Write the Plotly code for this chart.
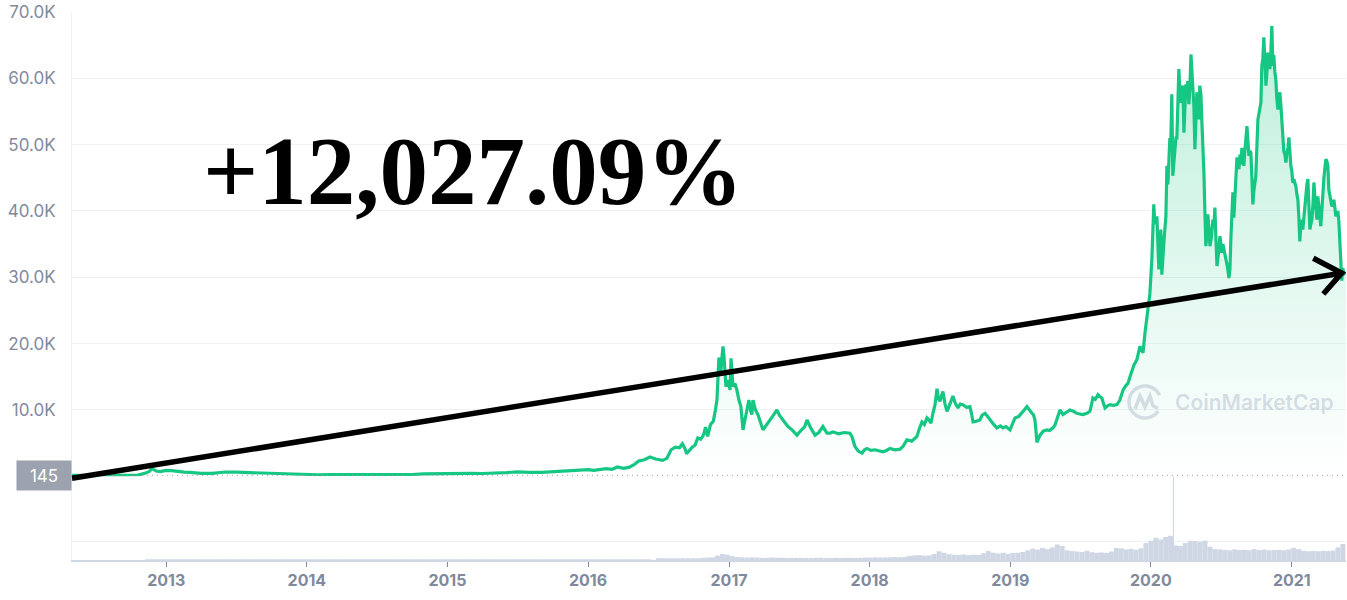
import numpy as np
import pandas as pd
import plotly.graph_objects as go

# ---------------- data (decimal years as shown on the chart's axis, USD) ----------------
price_years = [
    2012.332, 2012.37, 2012.42, 2012.50, 2012.58, 2012.67, 2012.75, 2012.80, 2012.85, 2012.88,
    2012.90, 2012.93, 2012.96, 2013.00, 2013.04, 2013.08, 2013.13, 2013.17, 2013.21, 2013.25,
    2013.33, 2013.38, 2013.42, 2013.50, 2013.58, 2013.67, 2013.75, 2013.83, 2013.92, 2014.00,
    2014.04, 2014.08, 2014.17, 2014.25, 2014.33, 2014.42, 2014.50, 2014.58, 2014.67, 2014.75,
    2014.83, 2014.92, 2015.00, 2015.08, 2015.17, 2015.25, 2015.33, 2015.42, 2015.50, 2015.58,
    2015.67, 2015.75, 2015.83, 2015.92, 2015.96, 2016.00, 2016.04, 2016.08, 2016.13, 2016.17,
    2016.21, 2016.25, 2016.29, 2016.33, 2016.36, 2016.40, 2016.44, 2016.48, 2016.50, 2016.53,
    2016.56, 2016.59, 2016.62, 2016.65, 2016.67, 2016.69, 2016.70, 2016.72, 2016.74, 2016.76,
    2016.78, 2016.80, 2016.82, 2016.835, 2016.85, 2016.87, 2016.89, 2016.905, 2016.916, 2016.93,
    2016.937, 2016.944, 2016.952, 2016.959, 2016.966, 2016.973, 2016.98, 2016.987, 2016.994, 2017.002,
    2017.009, 2017.016, 2017.023, 2017.03, 2017.044, 2017.058, 2017.072, 2017.086, 2017.101, 2017.115,
    2017.129, 2017.143, 2017.157, 2017.164, 2017.172, 2017.19, 2017.207, 2017.225, 2017.243, 2017.26,
    2017.278, 2017.31, 2017.342, 2017.36, 2017.385, 2017.40, 2017.421, 2017.45, 2017.485, 2017.50,
    2017.52, 2017.54, 2017.556, 2017.58, 2017.613, 2017.64, 2017.669, 2017.698, 2017.72, 2017.74,
    2017.78, 2017.82, 2017.861, 2017.875, 2017.897, 2017.92, 2017.947, 2017.965, 2017.982, 2018.01,
    2018.039, 2018.07, 2018.096, 2018.12, 2018.146, 2018.18, 2018.217, 2018.238, 2018.266, 2018.30,
    2018.323, 2018.337, 2018.355, 2018.373, 2018.39, 2018.409, 2018.423, 2018.437, 2018.451, 2018.466,
    2018.48, 2018.49, 2018.501, 2018.511, 2018.522, 2018.536, 2018.551, 2018.565, 2018.58, 2018.593,
    2018.61, 2018.629, 2018.645, 2018.664, 2018.69, 2018.714, 2018.725, 2018.736, 2018.76, 2018.785,
    2018.80, 2018.821, 2018.84, 2018.856, 2018.88, 2018.906, 2018.93, 2018.949, 2018.97, 2018.999,
    2019.017, 2019.034, 2019.06, 2019.084, 2019.10, 2019.119, 2019.135, 2019.155, 2019.165, 2019.176,
    2019.183, 2019.19, 2019.20, 2019.212, 2019.235, 2019.261, 2019.28, 2019.304, 2019.318, 2019.332,
    2019.345, 2019.354, 2019.375, 2019.40, 2019.425, 2019.45, 2019.474, 2019.495, 2019.517, 2019.545,
    2019.567, 2019.578, 2019.588, 2019.605, 2019.624, 2019.638, 2019.652, 2019.663, 2019.674, 2019.69,
    2019.709, 2019.735, 2019.759, 2019.78, 2019.802, 2019.82, 2019.837, 2019.852, 2019.866, 2019.88,
    2019.901, 2019.912, 2019.922, 2019.933, 2019.944, 2019.958, 2019.972, 2019.993, 2020.007, 2020.021,
    2020.028, 2020.036, 2020.043, 2020.05, 2020.057, 2020.064, 2020.071, 2020.078, 2020.085, 2020.095,
    2020.107, 2020.114, 2020.121, 2020.128, 2020.135, 2020.142, 2020.149, 2020.156, 2020.164, 2020.171,
    2020.178, 2020.185, 2020.192, 2020.199, 2020.207, 2020.214, 2020.221, 2020.228, 2020.235, 2020.242,
    2020.249, 2020.256, 2020.263, 2020.27, 2020.278, 2020.285, 2020.292, 2020.299, 2020.306, 2020.313,
    2020.320, 2020.327, 2020.334, 2020.341, 2020.348, 2020.356, 2020.363, 2020.37, 2020.377, 2020.384,
    2020.391, 2020.398, 2020.405, 2020.412, 2020.42, 2020.43, 2020.441, 2020.448, 2020.455, 2020.462,
    2020.47, 2020.48, 2020.491, 2020.498, 2020.505, 2020.512, 2020.519, 2020.527, 2020.534, 2020.545,
    2020.555, 2020.562, 2020.569, 2020.576, 2020.583, 2020.59, 2020.597, 2020.605, 2020.612, 2020.619,
    2020.626, 2020.633, 2020.64, 2020.647, 2020.654, 2020.661, 2020.668, 2020.676, 2020.683, 2020.69,
    2020.697, 2020.704, 2020.711, 2020.718, 2020.725, 2020.732, 2020.739, 2020.746, 2020.754, 2020.761,
    2020.771, 2020.782, 2020.789, 2020.796, 2020.803, 2020.81, 2020.818, 2020.825, 2020.832, 2020.839,
    2020.846, 2020.853, 2020.86, 2020.867, 2020.874, 2020.881, 2020.888, 2020.895, 2020.903, 2020.91,
    2020.917, 2020.924, 2020.931, 2020.938, 2020.945, 2020.953, 2020.96, 2020.967, 2020.974, 2020.981,
    2020.988, 2020.995, 2021.002, 2021.009, 2021.02, 2021.031, 2021.038, 2021.045, 2021.052, 2021.059,
    2021.066, 2021.073, 2021.08, 2021.09, 2021.102, 2021.109, 2021.116, 2021.123, 2021.13, 2021.137,
    2021.145, 2021.152, 2021.159, 2021.166, 2021.173, 2021.18, 2021.187, 2021.194, 2021.201, 2021.208,
    2021.215, 2021.223, 2021.23, 2021.237, 2021.244, 2021.251, 2021.258, 2021.265, 2021.272, 2021.279,
    2021.286, 2021.294, 2021.301, 2021.308, 2021.315, 2021.322, 2021.329, 2021.336, 2021.343, 2021.35,
    2021.357, 2021.364, 2021.372, 2021.386,
]
price_values = [
    145, 120, 110, 95, 105, 125, 140, 190, 450, 700,
    1150, 800, 700, 900, 850, 700, 620, 600, 500, 450,
    450, 600, 650, 620, 560, 480, 400, 360, 350, 300,
    210, 230, 250, 240, 230, 250, 270, 270, 230, 270,
    380, 420, 430, 380, 430, 420, 450, 560, 680, 580,
    600, 700, 740, 800, 950, 1000, 900, 1000, 1150, 1050,
    1400, 1200, 1350, 1800, 2300, 2500, 2900, 2600, 2500, 2400,
    2700, 4000, 4400, 4300, 4900, 4100, 3400, 3900, 4400, 4700,
    5800, 5600, 6200, 7400, 6000, 7800, 8300, 10000, 11500, 17900,
    16300, 15800, 18000, 19600, 18100, 15000, 13500, 14000, 14500, 13800,
    13000, 17800, 14800, 13500, 14000, 13000, 11500, 10500, 7000, 8500,
    10500, 11500, 9800, 9300, 11500, 10000, 9300, 8000, 7000, 7500,
    8000, 9000, 10000, 9200, 8500, 8100, 7500, 7000, 6200, 6600,
    7000, 7500, 8500, 7400, 6200, 6600, 7500, 6500, 6500, 6700,
    6400, 6600, 6500, 6000, 4500, 3800, 3500, 4000, 4200, 3900,
    4000, 3800, 3700, 3900, 4200, 4000, 4100, 4500, 5500, 5300,
    5700, 6000, 7200, 8200, 7800, 8800, 8500, 8000, 9500, 10800,
    13200, 11800, 11300, 12000, 12800, 11000, 9800, 10500, 11500, 12100,
    11000, 10300, 10900, 10800, 10400, 10500, 9500, 8200, 8300, 8500,
    9200, 9500, 9000, 8500, 7900, 7300, 7600, 7300, 7500, 7000,
    7800, 8800, 9000, 9500, 10000, 10500, 10000, 9500, 9300, 8500,
    7000, 5100, 5600, 6200, 6800, 7000, 6900, 7300, 7700, 8500,
    9200, 10000, 9300, 9600, 10000, 9800, 9500, 9400, 9300, 9500,
    9800, 10800, 11800, 11600, 12300, 12000, 11800, 11000, 10300, 10600,
    10800, 10700, 10800, 11500, 13000, 13600, 14000, 15000, 15800, 16800,
    17600, 19000, 19600, 19100, 18600, 21600, 24100, 27500, 32700, 41000,
    38000, 38700, 39200, 35000, 31200, 34500, 37200, 30400, 33200, 36000,
    39200, 46800, 44000, 48800, 51000, 50500, 57600, 45300, 47500, 49300,
    51000, 51000, 56000, 61400, 57500, 56300, 58000, 58900, 51800, 55000,
    59100, 58000, 59600, 56100, 59000, 63600, 61000, 60400, 55800, 49300,
    53000, 57900, 56000, 53800, 58900, 57500, 53300, 50000, 45800, 40000,
    34700, 36500, 39500, 37500, 34700, 36000, 38700, 37500, 40500, 36000,
    31700, 33500, 36200, 35000, 33700, 35000, 34200, 33800, 32700, 31500,
    29900, 31200, 36000, 40700, 42800, 39000, 41500, 44300, 48100, 47000,
    46300, 48500, 47000, 49500, 47500, 46800, 49000, 51000, 52800, 50500,
    48300, 49000, 48800, 45000, 41000, 43000, 44500, 45300, 50000, 53800,
    55000, 56300, 61900, 63000, 66200, 62000, 58900, 61000, 63900, 62500,
    61400, 64000, 67900, 61900, 63500, 61000, 59900, 57000, 55300, 56500,
    57900, 56000, 53800, 50300, 49000, 48500, 47300, 48800, 49500, 51100,
    48500, 46800, 46000, 44300, 44500, 43700, 42500, 41700, 39000, 35400,
    38000, 38700, 37200, 40000, 43200, 44000, 44800, 41000, 37200, 38000,
    38700, 41000, 44300, 42000, 40000, 38700, 42200, 40500, 38500, 37700,
    40000, 43200, 45000, 46500, 47800, 47500, 46800, 43200, 42500, 41500,
    40700, 41000, 41700, 40500, 39200, 39500, 40000, 38500, 35700, 33000,
    29500, 31400, 30500, 30700,
]

# volume (billions USD)
vol_early_years = [round(2012.9 + 0.1 * i, 2) for i in range(36)]
vol_early_values = [1, 1, 1, 1, 1, 1, 1, 1, 1, 1, 1, 1, 1, 1, 1, 1, 1, 1,
                    1, 1, 1, 1, 1, 1, 1, 1, 1, 1, 1, 1, 1, 1, 2, 2, 2, 2]
vol_years = [round(2016.5 + 0.035 * i, 3) for i in range(140)]
vol_values = [
    3, 3, 4, 4, 4, 5, 5, 6, 7, 9,
    10, 11, 18, 25, 22, 16, 12, 11, 10, 11,
    10, 9, 9, 10, 9, 9, 8, 9, 8, 9,
    8, 8, 9, 9, 8, 8, 9, 8, 9, 9,
    8, 9, 10, 10, 11, 10, 11, 11, 12, 11,
    13, 17, 19, 20, 18, 19, 25, 36, 30, 24,
    22, 21, 23, 20, 22, 21, 28, 37, 30, 27,
    30, 26, 29, 30, 33, 40, 47, 43, 50, 45,
    52, 64, 58, 40, 37, 35, 33, 38, 32, 30,
    31, 29, 35, 50, 48, 44, 46, 42, 48, 70,
    80, 92, 85, 95, 100, 60, 58, 70, 80, 78,
    75, 80, 55, 45, 44, 42, 40, 44, 41, 42,
    40, 45, 41, 43, 40, 41, 42, 40, 44, 50,
    45, 38, 36, 37, 36, 38, 37, 39, 52, 66,
]
spike_years = [2020.161]
spike_values = [345]

y_tick_values = [10000, 20000, 30000, 40000, 50000, 60000, 70000]
y_tick_labels = ["10.0K", "20.0K", "30.0K", "40.0K", "50.0K", "60.0K", "70.0K"]
start_price = 145
start_label = "145"
change_label = "+12,027.09%"
watermark = "CoinMarketCap"

# ---------------- helpers ----------------
BASE = pd.Timestamp("2000-01-01")


def to_date(t):
    return BASE + pd.to_timedelta((np.asarray(t, dtype=float) - 2000.0) * 365.25, unit="D")


YEAR_MS = 365.25 * 86400000

W, H = 1347, 600
ML, MR, MT, MB = 72, 1, 12, 40
PW, PH = W - ML - MR, H - MT - MB


def pxx(x):
    return (x - ML) / PW


def pxy(y):
    return (H - MB - y) / PH


price_bottom = pxy(476.3)

GREEN = "#16c784"
GRID = "#eff2f5"
LABEL = "#808a9d"
VOL = "#cfd6e4"
MARK = "rgba(150,160,185,0.35)"

fig = go.Figure()

fig.add_trace(go.Scatter(
    x=to_date(price_years), y=price_values, mode="lines",
    line=dict(color=GREEN, width=3.2),
    fill="tozeroy",
    fillgradient=dict(type="vertical", start=0, stop=65000,
                      colorscale=[[0, "rgba(22,199,132,0)"], [1, "rgba(22,199,132,0.27)"]]),
    xaxis="x", yaxis="y", hoverinfo="skip", showlegend=False,
))

fig.add_trace(go.Bar(
    x=to_date(vol_early_years), y=vol_early_values, width=0.1 * YEAR_MS,
    marker=dict(color=VOL, line=dict(width=0)), xaxis="x", yaxis="y2",
    hoverinfo="skip", showlegend=False,
))
fig.add_trace(go.Bar(
    x=to_date(vol_years), y=vol_values, width=0.035 * YEAR_MS,
    marker=dict(color=VOL, line=dict(width=0)), xaxis="x", yaxis="y2",
    hoverinfo="skip", showlegend=False,
))
fig.add_trace(go.Bar(
    x=to_date(spike_years), y=spike_values, width=2.5 * 86400000,
    marker=dict(color=VOL, line=dict(width=0)), xaxis="x", yaxis="y2",
    hoverinfo="skip", showlegend=False,
))

x_range = [to_date(2012.332), to_date(2021.387)]

fig.update_layout(
    width=W, height=H,
    margin=dict(l=ML, r=MR, t=MT, b=MB),
    paper_bgcolor="white", plot_bgcolor="white",
    barmode="overlay", hovermode=False,
    font=dict(family="Inter", color=LABEL),
    xaxis=dict(
        type="date", range=x_range, anchor="y2",
        tick0="2013-01-01", dtick="M12", tickformat="%Y",
        ticks="outside", ticklen=5, tickwidth=1, tickcolor=LABEL,
        showgrid=False, zeroline=False,
        showline=True, linecolor=VOL, linewidth=1.5,
        tickfont=dict(family="Inter", size=16, color=LABEL, weight=700),
    ),
    yaxis=dict(
        domain=[price_bottom, 1], range=[0, 70000], anchor="x",
        tickvals=y_tick_values, ticktext=y_tick_labels,
        ticks="outside", ticklen=12, tickcolor="rgba(0,0,0,0)",
        showgrid=True, gridcolor=GRID, gridwidth=1, zeroline=False,
        showline=True, linecolor=GRID, linewidth=1,
        tickfont=dict(family="Inter", size=17, color=LABEL),
    ),
    yaxis2=dict(
        domain=[0, price_bottom], range=[0, 346], anchor="x",
        tickvals=[75], showticklabels=False,
        showgrid=True, gridcolor=GRID, gridwidth=1, zeroline=False,
        showline=True, linecolor=GRID, linewidth=1,
    ),
)

# dotted reference line at the starting price
fig.add_shape(type="line", xref="paper", yref="y", x0=0, x1=1, y0=start_price, y1=start_price,
              line=dict(color="#9aa3b3", width=1, dash="1px,4px"), layer="above")

# watermark logo (ring + wave)
cx, cy, r = 1145, 402, 16
ang = np.linspace(np.deg2rad(-35), np.deg2rad(-35 - 300), 40)
ring = "M " + " L ".join(f"{pxx(cx + r * np.cos(a)):.5f},{pxy(cy - r * np.sin(a)):.5f}" for a in ang)
wave_pts = [(-10, 7), (-5, -6), (0, 5), (5, -6), (8, 4), (13, 6)]
wave = "M " + " L ".join(f"{pxx(cx + dx):.5f},{pxy(cy + dy):.5f}" for dx, dy in wave_pts)
for p in (ring, wave):
    fig.add_shape(type="path", xref="paper", yref="paper", path=p,
                  line=dict(color=MARK, width=3.5), layer="above")

fig.add_annotation(xref="paper", yref="paper", x=pxx(1173), y=pxy(402), xanchor="left", yanchor="middle",
                   text=watermark, showarrow=False,
                   font=dict(family="Inter", size=21, color=MARK, weight=600))

# black arrow
fig.add_shape(type="line", xref="paper", yref="paper",
              x0=pxx(72), y0=pxy(478.3), x1=pxx(1341), y1=pxy(273.2),
              line=dict(color="black", width=5.5), layer="above")
fig.add_shape(type="path", xref="paper", yref="paper",
              path=f"M {pxx(1313.3):.5f},{pxy(258.3):.5f} L {pxx(1341.7):.5f},{pxy(273):.5f} L {pxx(1323.3):.5f},{pxy(294):.5f}",
              line=dict(color="black", width=5.5), layer="above")

# start-price badge
fig.add_annotation(xref="paper", yref="y", x=0, y=start_price, xanchor="right", yanchor="middle",
                   text=start_label, showarrow=False, width=54, height=29, borderpad=0,
                   bgcolor="#9ca2ae", align="center",
                   font=dict(family="Inter", size=17, color="white"))

# big percentage text
fig.add_annotation(xref="paper", yref="paper", x=pxx(473), y=pxy(171), xanchor="center", yanchor="middle",
                   text=change_label, showarrow=False,
                   font=dict(family="Liberation Serif", size=97, color="black", weight="bold"))

fig.write_html("out.html", config={"displayModeBar": False},
               post_script="document.body.style.margin='0';document.body.style.padding='0';")
